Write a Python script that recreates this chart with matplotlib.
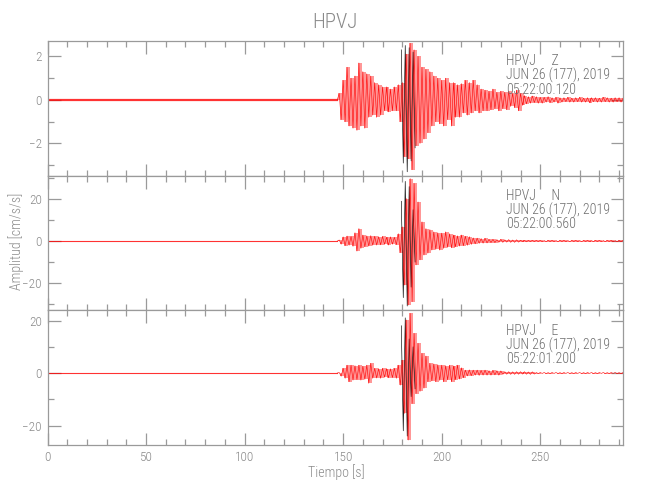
import numpy as np
import matplotlib
matplotlib.use("Agg")
import matplotlib.pyplot as plt
from matplotlib import font_manager
from matplotlib.ticker import MultipleLocator

# ---------------------------------------------------------------------------
# Datos (picos, 1 muestra por segundo desde T0)
# ---------------------------------------------------------------------------
STATION = "HPVJ"
COMPONENTS = ["Z", "N", "E"]
DATE_LABEL = "JUN 26 (177), 2019"
START_TIMES = ["05:22:00.120", "05:22:00.560", "05:22:01.200"]

T0 = 147.0      # llegada de la onda P [s]
DT = 1.0
T_END = 292.0
T_BLACK0 = 179.5  # traza negra (sin filtrar) solo visible en el pico

Z_VALS = [
    0.3, -0.9, 0.9, -1.0, 1.5, -1.2, 1.0, -1.3, 1.1, -1.4,
    1.7, -1.2, 1.3, -1.3, 1.2, -0.8, 1.1, -0.7, 0.8, -0.8,
    0.7, -0.7, 0.6, -0.5, 0.6, -0.55, 0.5, -0.5, 0.6, -0.5,
    0.7, -1.0, 0.8, -2.6, 2.1, -2.7, 2.6, -3.2, 2.3, -2.1,
    2.0, -2.0, 1.5, -1.8, 1.4, -1.5, 1.3, -1.2, 1.1, -1.0,
    1.0, -1.1, 0.9, -1.2, 1.0, -0.9, 0.8, -1.2, 0.8, -0.8,
    0.7, -0.8, 0.75, -0.6, 0.9, -0.7, 0.8, -0.6, 0.9, -0.5,
    0.7, -0.6, 0.5, -0.5, 0.45, -0.5, 0.4, -0.45, 0.5, -0.4,
    0.35, -0.5, 0.4, -0.4, 0.35, -0.45, 0.4, -0.3, 0.3, -0.35,
    0.45, -0.5, 0.3, -0.25, 0.2, -0.18, 0.15, -0.15, 0.18, -0.12,
    0.15, -0.15, 0.12, -0.15, 0.12, -0.1, 0.15, -0.12, 0.1, -0.1,
    0.12, -0.15, 0.1, -0.1, 0.1, -0.08, 0.12, -0.1, 0.08, -0.1,
    0.1, -0.08, 0.12, -0.1, 0.08, -0.1, 0.1, -0.12, 0.1, -0.08,
    0.1, -0.1, 0.08, -0.1, 0.12, -0.08, 0.1, -0.1, 0.08, -0.1,
    0.1, -0.08, 0.1, -0.1, 0.08,
]
N_VALS = [
    0.5, -1.5, 2.0, -2.2, 2.4, -2.0, 2.2, -2.5, 4.0, -4.8,
    6.0, -3.5, 2.9, -2.7, 2.5, -2.4, 2.6, -2.0, 2.3, -1.9,
    2.1, -1.8, 2.2, -1.6, 1.8, -1.9, 2.0, -1.5, 1.8, -1.7,
    3.5, -5.5, 6.8, -21.0, 20.3, -30.5, 29.8, -28.9, 27.5, -11.4,
    18.7, -9.0, 9.2, -6.7, 6.0, -5.8, 5.5, -4.3, 4.4, -4.0,
    4.0, -4.3, 3.8, -3.5, 4.4, -3.0, 3.5, -3.2, 2.9, -2.7,
    2.5, -2.4, 2.9, -2.2, 2.3, -2.0, 2.1, -1.6, 1.5, -1.3,
    1.4, -1.1, 1.2, -1.0, 1.3, -0.9, 0.8, -0.7, 0.8, -0.7,
    0.7, -0.6, 0.8, -0.6, 0.6, -0.5, 0.7, -0.6, 0.5, -0.6,
    0.6, -0.5, 0.4, -0.3, 0.3, -0.35, 0.3, -0.3, 0.35, -0.3,
    0.3, -0.25, 0.3, -0.3, 0.25, -0.3, 0.3, -0.25, 0.3, -0.3,
    0.25, -0.3, 0.3, -0.25, 0.3, -0.3, 0.25, -0.3, 0.3, -0.25,
    0.3, -0.3, 0.25, -0.3, 0.3, -0.25, 0.3, -0.3, 0.25, -0.3,
    0.3, -0.25, 0.3, -0.3, 0.25, -0.3, 0.3, -0.25, 0.3, -0.3,
    0.25, -0.3, 0.3, -0.25, 0.3,
]
E_VALS = [
    0.2, -1.2, 1.8, -2.0, 3.0, -3.3, 3.0, -2.7, 2.8, -2.5,
    3.0, -2.7, 2.6, -2.4, 3.0, -3.9, 3.7, -2.0, 1.8, -1.9,
    1.7, -2.0, 1.8, -1.6, 1.7, -1.8, 1.6, -1.7, 1.8, -2.0,
    3.0, -4.6, 4.9, -15.4, 20.2, -25.5, 22.7, -11.6, 15.1, -7.8,
    11.3, -7.0, 7.5, -5.8, 6.5, -3.3, 3.7, -3.0, 3.5, -3.3,
    3.2, -2.8, 3.0, -3.3, 2.8, -2.6, 3.0, -3.3, 2.7, -2.5,
    3.0, -2.3, 2.0, -1.8, 1.1, -1.1, 1.2, -1.0, 1.1, -0.8,
    1.1, -0.9, 1.0, -0.8, 1.1, -0.8, 0.9, -0.8, 1.0, -0.7,
    0.9, -0.8, 0.8, -0.5, 0.5, -0.45, 0.5, -0.5, 0.45, -0.5,
    0.5, -0.45, 0.5, -0.4, 0.5, -0.45, 0.4, -0.5, 0.45, -0.4,
    0.2, -0.2, 0.2, -0.15, 0.2, -0.2, 0.15, -0.2, 0.2, -0.15,
    0.2, -0.2, 0.15, -0.2, 0.2, -0.15, 0.2, -0.2, 0.15, -0.2,
    0.2, -0.15, 0.2, -0.2, 0.15, -0.2, 0.2, -0.15, 0.2, -0.2,
    0.15, -0.2, 0.2, -0.15, 0.2, -0.2, 0.15, -0.2, 0.2, -0.15,
    0.2, -0.2, 0.15, -0.2, 0.2,
]

Z_BLACK = [2.3, -2.9, 2.5, -3.3, 2.4, -2.8, 2.2, -2.2]
N_BLACK = [19.0, -27.0, 28.5, -31.0, 26.0, -22.0, 15.0, -10.0]
E_BLACK = [18.0, -22.0, 21.0, -24.0, 13.0, -9.0, 10.0, -6.0]

TRACES = [Z_VALS, N_VALS, E_VALS]
BLACKS = [Z_BLACK, N_BLACK, E_BLACK]
NOISE_LW = [1.6, 0.8, 0.8]   # grosor de la línea antes de la llegada

YLIMS = [(-3.47, 2.72), (-32.9, 31.3), (-27.4, 24.0)]
Y_MAJOR = [2, 20, 20]
Y_MINOR = [1, 10, 10]

# ---------------------------------------------------------------------------
# Estilo: fuente estrecha y fina parecida a la de SAC
# ---------------------------------------------------------------------------
installed = {f.name for f in font_manager.fontManager.ttflist}
FONT = next((f for f in ["Liberation Sans Narrow", "DejaVu Sans Condensed",
                         "Roboto Condensed", "Roboto", "DejaVu Sans"]
             if f in installed), "DejaVu Sans")
plt.rcParams["font.family"] = [FONT, "DejaVu Sans"]
plt.rcParams["font.weight"] = "light"

AXIS_GRAY = "#9a9a9a"
TICK_TXT = "#8a8a8a"
NOTE_TXT = "#6e6e6e"
RED = "#ff0000"

fig = plt.figure(figsize=(6.5, 5.0), dpi=100)
left, width = 0.0731, 0.8854
bottoms = [0.649, 0.380, 0.110]
heights = [0.2696, 0.269, 0.270]

axes = []
for i in range(3):
    ax = fig.add_axes([left, bottoms[i], width, heights[i]],
                      sharex=axes[0] if axes else None)
    axes.append(ax)

    vals = np.r_[0.0, TRACES[i]]
    t = T0 + DT * np.arange(len(vals))
    tb = T_BLACK0 + DT * np.arange(len(BLACKS[i]))

    # ruido pre-evento
    ax.plot([0, T0], [0, 0], color=RED, lw=NOISE_LW[i], alpha=0.8)
    # banda densa: cada segundo cubre del pico anterior al actual
    ax.vlines(t[1:], vals[:-1], vals[1:], color=RED, lw=1.3, alpha=0.45)
    ax.plot(tb, BLACKS[i], color="black", lw=0.45)
    ax.plot(t, vals, color=RED, lw=0.45, alpha=0.9)

    ax.set_xlim(0, T_END)
    ax.set_ylim(*YLIMS[i])
    ax.xaxis.set_major_locator(MultipleLocator(50))
    ax.xaxis.set_minor_locator(MultipleLocator(10))
    ax.yaxis.set_major_locator(MultipleLocator(Y_MAJOR[i]))
    ax.yaxis.set_minor_locator(MultipleLocator(Y_MINOR[i]))
    ax.tick_params(which="both", direction="in", top=True, right=True,
                   color=AXIS_GRAY, labelcolor=TICK_TXT, labelsize=9.5,
                   width=0.9, pad=4)
    ax.tick_params(which="major", length=9)
    ax.tick_params(which="minor", length=4.5)
    for sp in ax.spines.values():
        sp.set_color(AXIS_GRAY)
        sp.set_linewidth(0.9)
    if i < 2:
        ax.tick_params(labelbottom=False)

    for k, txt in enumerate([f"{STATION}     {COMPONENTS[i]}", DATE_LABEL,
                             START_TIMES[i]]):
        ax.text(0.797, [0.848, 0.741, 0.637][k], txt, transform=ax.transAxes,
                ha="left", va="center", fontsize=10, color=NOTE_TXT)

fig.text(0.515, 0.955, STATION, ha="center", va="center",
         fontsize=15, color=TICK_TXT)
fig.text(0.517, 0.055, "Tiempo [s]", ha="center", va="center",
         fontsize=10, color=TICK_TXT)
fig.text(0.025, 0.517, "Amplitud [cm/s/s]", ha="center", va="center",
         rotation=90, fontsize=10, color=TICK_TXT)

fig.savefig("out.png", dpi=100)
